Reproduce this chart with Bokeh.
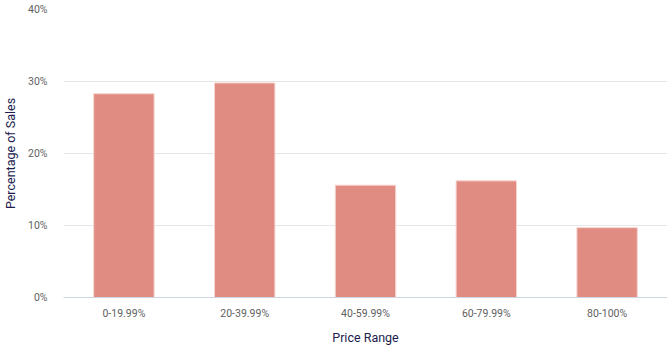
from bokeh.plotting import figure
from bokeh.models import FactorRange, Range1d, PrintfTickFormatter, FixedTicker
from bokeh.embed import file_html
from bokeh.resources import INLINE

categories = ["0-19.99%", "20-39.99%", "40-59.99%", "60-79.99%", "80-100%"]
sales_pct = [28.3, 29.8, 15.6, 16.2, 9.7]
y_ticks = [0, 10, 20, 30, 40]

p = figure(
    width=667, height=347,
    x_range=FactorRange(*categories, range_padding=0),
    y_range=Range1d(0, 40),
    output_backend="svg", toolbar_location=None,
    min_border_left=61, min_border_right=0, min_border_top=9, min_border_bottom=50,
)

p.vbar(x=categories, top=sales_pct, width=0.5,
       fill_color="#E08C82", line_color="#F6D4CF", line_width=1)

p.outline_line_color = None
p.background_fill_color = "white"
p.border_fill_color = "white"

# grid
p.xgrid.grid_line_color = None
p.ygrid.grid_line_color = "#E6E6E6"
p.ygrid.grid_line_width = 1

# y axis
p.yaxis.ticker = FixedTicker(ticks=y_ticks)
p.yaxis.formatter = PrintfTickFormatter(format="%d%%")
p.yaxis.axis_line_color = None
p.yaxis.major_label_standoff = 16
p.yaxis.axis_label = "Percentage of Sales"
p.yaxis.axis_label_standoff = 7

# x axis
p.xaxis.axis_line_color = "#CDD5E4"
p.xaxis.axis_line_width = 1
p.xaxis.major_label_standoff = 9
p.xaxis.axis_label = "Price Range"
p.xaxis.axis_label_standoff = 7

for ax in (p.xaxis, p.yaxis):
    ax.major_tick_line_color = None
    ax.minor_tick_line_color = None
    ax.major_tick_out = 0
    ax.major_tick_in = 0
    ax.minor_tick_out = 0
    ax.minor_tick_in = 0
    ax.major_label_text_font = "Roboto"
    ax.major_label_text_font_size = "10.5px"
    ax.major_label_text_color = "#5F5F5F"
    ax.axis_label_text_font = "Roboto"
    ax.axis_label_text_font_style = "normal"
    ax.axis_label_text_color = "#221C4E"
    ax.axis_label_text_font_size = "12.5px"

open("out.html", "w").write(file_html(p, INLINE))
